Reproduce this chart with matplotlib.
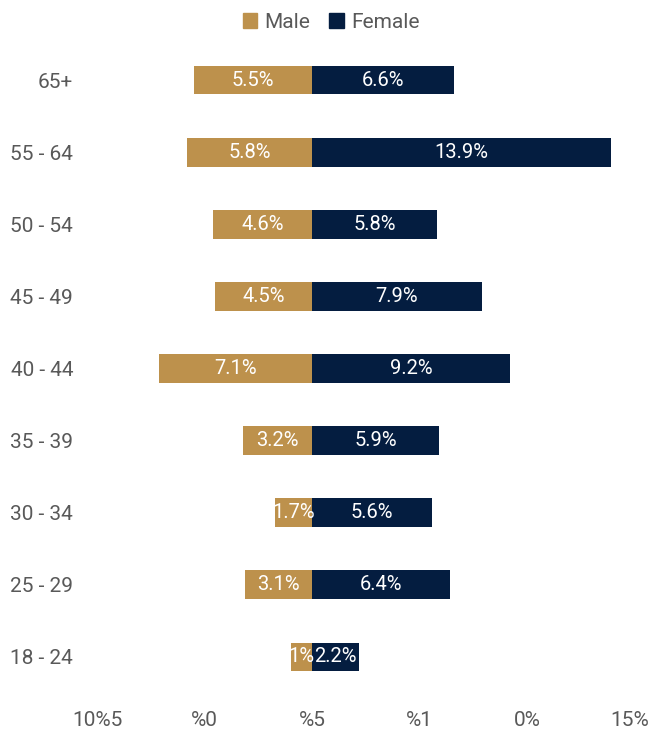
import matplotlib.pyplot as plt
from matplotlib.patches import Patch
from matplotlib.transforms import ScaledTranslation

# age groups, bottom to top
grupos = ["18 - 24", "25 - 29", "30 - 34", "35 - 39", "40 - 44",
          "45 - 49", "50 - 54", "55 - 64", "65+"]
masculino = [1.0, 3.1, 1.7, 3.2, 7.1, 4.5, 4.6, 5.8, 5.5]
feminino = [2.2, 6.4, 5.6, 5.9, 9.2, 7.9, 5.8, 13.9, 6.6]

ticks_x = [-10, -5, 0, 5, 10, 15]
rotulos_x = ["10%5", "%0", "%5", "%1", "0%", "15%"]

cor_m = "#BD914C"
cor_f = "#041D40"
cor_txt = "#595959"

plt.rcParams['font.family'] = ['Roboto', 'DejaVu Sans']

W, H = 652, 737
fig = plt.figure(figsize=(W / 100, H / 100), dpi=100)

# axes placed in pixel terms
esq, dir_, topo, base = 85, 650, 40, 690
ax = fig.add_axes([esq / W, 1 - base / H, (dir_ - esq) / W, (base - topo) / H])

zero_px, escala = 312, 21.5
ax.set_xlim((esq - zero_px) / escala, (dir_ - zero_px) / escala)
passo = 72.125
ax.set_ylim((657 - base) / passo, (657 - topo) / passo)

pos = list(range(len(grupos)))
alt = 0.4
ax.barh(pos, [-v for v in masculino], height=alt, color=cor_m)
ax.barh(pos, feminino, height=alt, color=cor_f)

for y, m, f in zip(pos, masculino, feminino):
    ax.text(-m / 2, y, f"{m:g}%", ha="center", va="center",
            color="white", fontsize=14.5)
    ax.text(f / 2, y, f"{f:g}%", ha="center", va="center",
            color="white", fontsize=14.5)

ax.set_yticks(pos)
ax.set_yticklabels(grupos, fontsize=15, color=cor_txt)
ax.set_xticks(ticks_x)
ax.set_xticklabels(rotulos_x, fontsize=15, color=cor_txt)
ax.tick_params(axis="both", length=0)
ax.tick_params(axis="y", pad=8.6)
ax.tick_params(axis="x", pad=15)
for s in ax.spines.values():
    s.set_visible(False)

# pull the last tick label in from the right edge
ultimo = ax.get_xticklabels()[-1]
ultimo.set_transform(ultimo.get_transform()
                     + ScaledTranslation(-5 / 100, 0, fig.dpi_scale_trans))

handles = [Patch(color=cor_m, label="Male"), Patch(color=cor_f, label="Female")]
fig.legend(handles=handles, loc="upper center", bbox_to_anchor=(0.508, 1.008),
           ncol=2, frameon=False, fontsize=15, handlelength=0.7,
           handleheight=0.7, handletextpad=0.35, columnspacing=0.9,
           labelcolor=cor_txt)

fig.savefig("out.png", dpi=100)
